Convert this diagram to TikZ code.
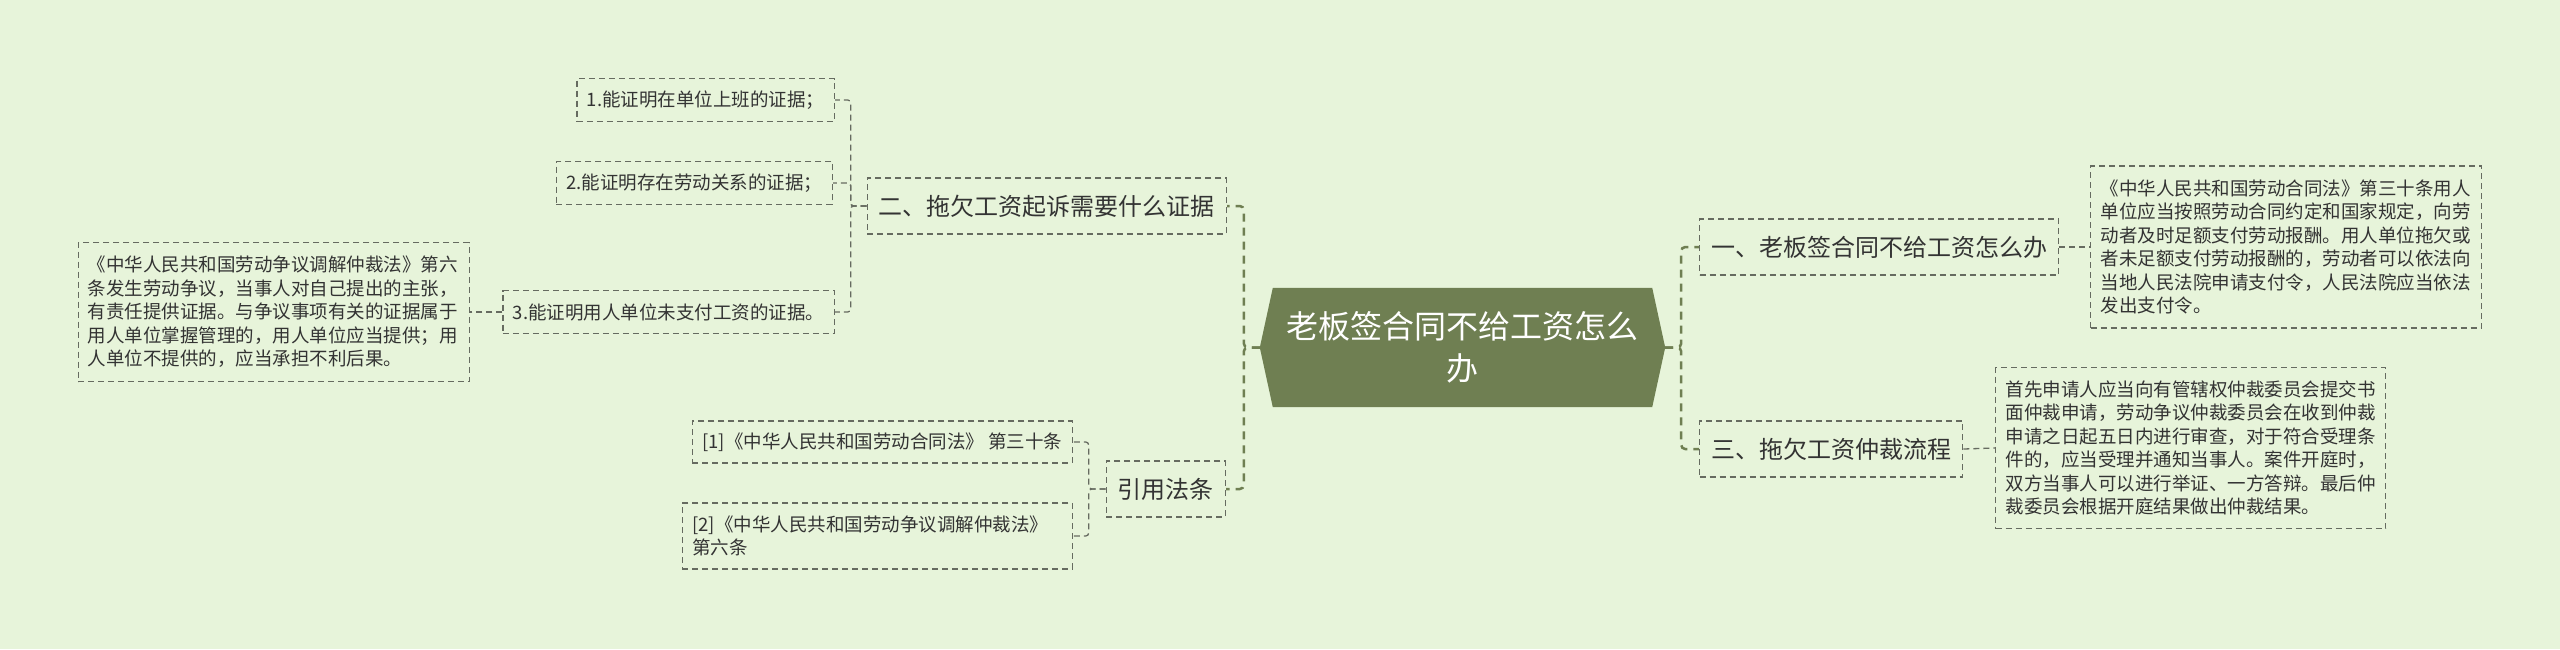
\documentclass[tikz,border=0pt]{standalone}
\usepackage{fontspec}
\setmainfont{Noto Sans CJK SC}
\usetikzlibrary{calc,backgrounds}
\definecolor{bgc}{HTML}{E7F4DA}
\definecolor{mainc}{HTML}{6F7F52}
\definecolor{linec}{HTML}{666B60}
\definecolor{txtc}{HTML}{333333}
\tikzset{
  box/.style={draw=linec, line width=1.3pt, dash pattern=on 6pt off 4pt, text=txtc,
    inner xsep=10pt, inner ysep=4pt, font=\fontsize{18.5}{23.5}\selectfont, align=left},
  midbox/.style={box, inner xsep=11.5pt, font=\fontsize{24}{30}\selectfont},
  mainconn/.style={draw=mainc, line width=2.5pt, dash pattern=on 8pt off 6pt, rounded corners=4pt},
  subconn/.style={draw=linec, line width=1.3pt, dash pattern=on 6pt off 4pt, rounded corners=3pt},
  centerbox/.style={text=white, font=\fontsize{32}{42}\selectfont, align=center,
    minimum width=405pt, minimum height=119pt, inner sep=0pt},
}
\begin{document}
\begin{tikzpicture}[x=1pt,y=-1pt]
\useasboundingbox (0,0) rectangle (2560,649);
\node[centerbox] (c) at (1462.5,347.5) {老板签合同不给工资怎么\\办};
\begin{scope}[on background layer]
\fill[bgc] (0,0) rectangle (2560,649);
\fill[mainc] (c.west) -- ($(c.north west)+(13,0)$) -- ($(c.north east)+(-13,0)$) -- (c.east)
  -- ($(c.south east)+(-13,0)$) -- ($(c.south west)+(13,0)$) -- cycle;
\end{scope}

\node[midbox, anchor=east, minimum height=56pt] (b2) at (1227,206) {二、拖欠工资起诉需要什么证据};
\node[midbox, anchor=east, minimum height=56pt] (b4) at (1226,489) {引用法条};
\node[midbox, anchor=west, minimum height=56pt] (b1) at (1699,247) {一、老板签合同不给工资怎么办};
\node[midbox, anchor=west, minimum height=56pt] (b3) at (1699,449) {三、拖欠工资仲裁流程};

\node[box, anchor=east, minimum height=43pt] (e1) at (835,100) {1.能证明在单位上班的证据；};
\node[box, anchor=east, minimum height=43pt] (e2) at (833,183) {2.能证明存在劳动关系的证据；};
\node[box, anchor=east, minimum height=43pt] (e3) at (835,312) {3.能证明用人单位未支付工资的证据。};
\node[box, anchor=east, text width=372pt, inner xsep=9.5pt, minimum height=139pt] (e3d) at (470,312)
  {《中华人民共和国劳动争议调解仲裁法》第六\\条发生劳动争议，当事人对自己提出的主张，\\有责任提供证据。与争议事项有关的证据属于\\用人单位掌握管理的，用人单位应当提供；用\\人单位不提供的，应当承担不利后果。};
\node[box, anchor=east, minimum height=42pt] (r1) at (1073,442) {[1]《中华人民共和国劳动合同法》 第三十条};
\node[box, anchor=east, text width=370pt, minimum height=66pt] (r2) at (1073,536)
  {[2]《中华人民共和国劳动争议调解仲裁法》\\第六条};
\node[box, anchor=west, text width=371pt, minimum height=162pt] (d1) at (2090,247)
  {《中华人民共和国劳动合同法》第三十条用人\\单位应当按照劳动合同约定和国家规定，向劳\\动者及时足额支付劳动报酬。用人单位拖欠或\\者未足额支付劳动报酬的，劳动者可以依法向\\当地人民法院申请支付令，人民法院应当依法\\发出支付令。};
\node[box, anchor=west, text width=370pt, minimum height=161pt] (d3) at (1995,448)
  {首先申请人应当向有管辖权仲裁委员会提交书\\面仲裁申请，劳动争议仲裁委员会在收到仲裁\\申请之日起五日内进行审查，对于符合受理条\\件的，应当受理并通知当事人。案件开庭时，\\双方当事人可以进行举证、一方答辩。最后仲\\裁委员会根据开庭结果做出仲裁结果。};

\draw[mainconn] (c.west) -- ++(-16,0) |- (b2.east);
\draw[mainconn] (c.west) -- ++(-16,0) |- (b4.east);
\draw[mainconn] (c.east) -- ++(16,0) |- (b1.west);
\draw[mainconn] (c.east) -- ++(16,0) |- (b3.west);
\draw[subconn] (b2.west) -- ++(-16,0) |- (e1.east);
\draw[subconn] (b2.west) -- ++(-16,0) |- (e2.east);
\draw[subconn] (b2.west) -- ++(-16,0) |- (e3.east);
\draw[subconn] (e3.west) -- (e3d.east);
\draw[subconn] (b4.west) -- ++(-17,0) |- (r1.east);
\draw[subconn] (b4.west) -- ++(-17,0) |- (r2.east);
\draw[subconn] (b1.east) -- (d1.west);
\draw[subconn] (b3.east) -- (d3.west);
\end{tikzpicture}
\end{document}
